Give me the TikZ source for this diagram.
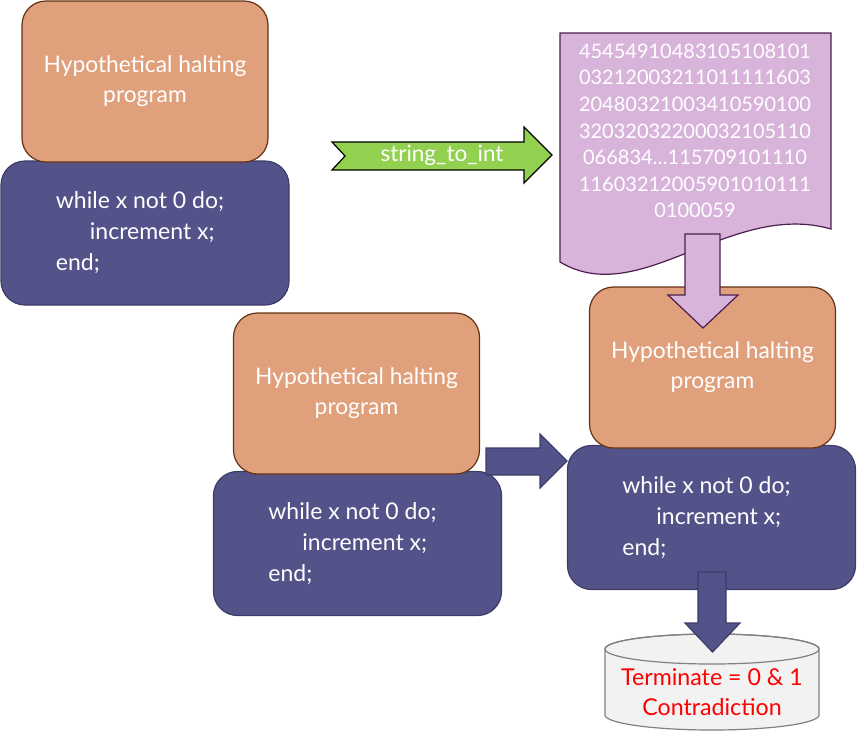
\documentclass[tikz,border=0pt]{standalone}
\usepackage{fontspec}
\setmainfont{Lato}
\definecolor{orng}{RGB}{224,160,124}
\definecolor{orngd}{RGB}{100,50,20}
\definecolor{blu}{RGB}{83,83,137}
\definecolor{blud}{RGB}{60,60,105}
\definecolor{pnk}{RGB}{217,180,218}
\definecolor{pnkd}{RGB}{75,30,80}
\definecolor{grn}{RGB}{146,208,80}
\definecolor{cylf}{RGB}{242,242,242}
\definecolor{cyld}{RGB}{128,128,128}
\tikzset{
  hbox/.style={draw=orngd, fill=orng, line width=1.2pt, rounded corners=24pt,
    minimum width=246pt, minimum height=161pt, inner sep=0pt, text=white,
    align=center, font=\fontsize{22.8}{30}\selectfont},
  codebox/.style={draw=blud, fill=blu, line width=1.2pt, rounded corners=24pt,
    minimum width=288pt, minimum height=144pt, inner sep=0pt, text=white,
    align=left, font=\fontsize{23}{31}\selectfont},
  blockblue/.style={draw=blud, fill=blu, line width=1.2pt, line join=miter},
  blockpink/.style={draw=pnkd, fill=pnk, line width=1.2pt, line join=miter},
}
\newcommand{\codetext}{while x not 0 do;\hspace*{10pt}\\\hspace*{34pt}increment x;\\end;}
\begin{document}
\begin{tikzpicture}[x=1pt,y=-1pt]
\useasboundingbox (0,0) rectangle (857,737);
% top-left group
\node[codebox] (c1) at (145,233) {\codetext};
\node[hbox] (h1) at (145,81.5) {Hypothetical halting\\program};
% middle group
\node[codebox] (c2) at (357.5,543.5) {\codetext};
\node[hbox] (h2) at (356.5,393.5) {Hypothetical halting\\program};
% right group
\node[codebox] (c3) at (711.5,517.5) {\codetext};
\node[hbox] (h3) at (712.5,367.5) {Hypothetical halting\\program};
% document shape
\draw[draw=pnkd, fill=pnk, line width=1.2pt] (560,33) -- (831,33) -- (831,229)
  .. controls (730,200) and (640,310) .. (560,262) -- cycle;
\node[text=white, align=center, font=\fontsize{20}{26.6}\selectfont, inner sep=0pt] (doc) at (695,131)
 {45454910483105108101\\03212003211011111603\\20480321003410590100\\32032032200032105110\\066834\ldots115709101110\\11603212005901010111\\0100059};
% green arrow
\draw[draw=black, fill=grn, line width=1.2pt, line join=miter] (332,142) -- (524,142) -- (524,127) -- (552,155)
  -- (524,183) -- (524,170) -- (332,170) -- (345,156) -- cycle;
\node[text=white, font=\fontsize{22.5}{26}\selectfont, inner sep=0pt] (s2i) at (442,155) {string\_to\_int};
% pink arrow doc -> h3
\draw[blockpink] (685,234) -- (720,234) -- (720,295) -- (738,295) -- (703,328) -- (668,295) -- (685,295) -- cycle;
% blue arrow h2 -> c3
\draw[blockblue] (486,448) -- (540,448) -- (540,434) -- (567,461) -- (540,488) -- (540,475) -- (486,475) -- cycle;
% cylinder
\draw[draw=cyld, fill=cylf, line width=1.2pt] (605,649) -- (605,715)
  arc[start angle=180, end angle=360, x radius=107pt, y radius=15pt] -- (819,649)
  arc[start angle=0, end angle=180, x radius=107pt, y radius=15pt] -- cycle;
\draw[draw=cyld, line width=1.2pt] (712,649) ellipse[x radius=107pt, y radius=15pt];
\node[text=red, align=center, font=\fontsize{23.2}{30}\selectfont, inner sep=0pt] (cyl) at (712,692) {Terminate = 0 \& 1\\Contradiction};
% blue arrow c3 -> cylinder
\draw[blockblue] (698,572) -- (726,572) -- (726,623) -- (740,623) -- (712.5,652) -- (685,623) -- (698,623) -- cycle;
\end{tikzpicture}
\end{document}
